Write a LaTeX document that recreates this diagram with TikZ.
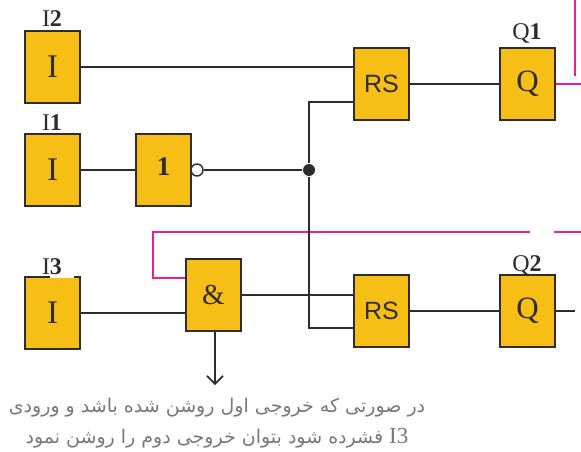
\documentclass[tikz,border=0pt]{standalone}
\usepackage{fontspec}
\setmainfont{Liberation Serif}
\newfontfamily\rsfont{Liberation Sans}
\newfontfamily\arabicfont[Script=Arabic]{DejaVu Sans}
\TeXXeTstate=1
\usetikzlibrary{arrows.meta,calc}
\definecolor{blockfill}{HTML}{F7BE16}
\definecolor{wirecol}{HTML}{2E2C2D}
\definecolor{pinkcol}{HTML}{EC1C9C}
\definecolor{notecol}{HTML}{77787B}
\begin{document}
\begin{tikzpicture}[x=1pt, y=-1pt, line width=1.7pt,
    block/.style={shape=rectangle, draw=wirecol, fill=blockfill, text=wirecol, minimum width=55pt, minimum height=72pt, inner sep=0pt},
    tag/.style={anchor=base, inner sep=0pt, text=wirecol, font=\fontsize{24}{24}\selectfont},
    wire/.style={draw=wirecol},
    pinkwire/.style={draw=pinkcol},
    note/.style={anchor=base, inner sep=0pt, text=notecol, font=\arabicfont\fontsize{19}{19}\selectfont}]
      \useasboundingbox (0,0) rectangle (581,452);

      \node[block, font=\fontsize{33}{33}\selectfont] (I2) at (52.5,67) {I};
      \node[block, font=\fontsize{33}{33}\selectfont] (I1) at (52.5,170) {I};
      \node[block, font=\fontsize{33}{33}\selectfont] (I3) at (52.5,313) {I};
      \node[block, font=\bfseries\fontsize{27}{27}\selectfont] (not1) at (163.5,170) {\raisebox{7pt}{1}};
      \node[block, font=\fontsize{29}{29}\selectfont] (and1) at (213.5,295) {\&};
      \node[block, font=\rsfont\fontsize{25}{25}\selectfont] (RS1) at (381.5,84) {RS};
      \node[block, font=\rsfont\fontsize{25}{25}\selectfont] (RS2) at (381.5,311) {RS};
      \node[block, font=\fontsize{31}{31}\selectfont] (Q1) at (527.5,84) {Q};
      \node[block, font=\fontsize{31}{31}\selectfont] (Q2) at (527.5,311) {Q};

      \node[tag] (I2tag) at (52,27) {I\textbf{2}};
      \node[tag] (I1tag) at (52,130) {I\textbf{1}};
      \node[tag] (I3tag) at (52,274) {I\textbf{3}};
      \node[tag] (Q1tag) at (527,40) {Q\textbf{1}};
      \node[tag] (Q2tag) at (527,271) {Q\textbf{2}};

      \node[shape=circle, draw=wirecol, fill=white, line width=1.4pt, inner sep=0pt, minimum size=12pt] (bubble) at (197,170) {};
      \node[shape=circle, fill=wirecol, inner sep=0pt, minimum size=12pt] (dot) at (309,170) {};

      \coordinate (Q2end) at (575,311);
      \coordinate (arrowend) at (215,385);
      \coordinate (pinkA) at (581,84);
      \coordinate (pinkB) at (575,0);
      \coordinate (pinkC) at (575,76);
      \coordinate (pinkD) at (581,232);
      \coordinate (pinkE) at (554,232);
      \coordinate (pinkF) at (530,232);
      \coordinate (pinkG) at (153,232);
      \coordinate (pinkH) at (153,278);

      % feedback lines
      \path [-, pinkwire] (Q1.east) edge (pinkA);
      \path [-, pinkwire] (pinkB) edge (pinkC);
      \path [-, pinkwire] (pinkD) edge (pinkE);
      \draw [pinkwire] (pinkF) -- (pinkG) -- (pinkH) -- (pinkH -| and1.west);

      \path [-, wire] (I2.east) edge (I2.east -| RS1.west);
      \path [-, wire] (I1.east) edge (not1.west);
      \path [-, wire] (bubble.east) edge (dot);
      \path [-, wire] (I3.east) edge (I3.east -| and1.west);
      \path [-, wire] (and1.east) edge (and1.east -| RS2.west);
      \path [-, wire] (RS1.east) edge (Q1.west);
      \path [-, wire] (RS2.east) edge (Q2.west);
      \path [-, wire] (Q2.east) edge (Q2end);
      \draw [wire] (dot) |- ($(RS1.west)+(0,18)$);
      \draw [wire] (dot) |- ($(RS2.west)+(0,17)$);
      \draw [wire, -{Straight Barb[length=8pt,width=16pt]}] (and1.south -| arrowend) -- (arrowend);

      \fill [white] (50,276) rectangle (74,278);

      \node[note] (noteA) at (217,412) {\beginR در صورتی که خروجی اول روشن شده باشد و ورودی\endR};
      \node[note] (noteB) at (217,443) {\beginR\beginL{\rmfamily\fontsize{23}{23}\selectfont I3}\endL{} فشرده شود بتوان خروجی دوم را روشن نمود\endR};
\end{tikzpicture}
\end{document}
